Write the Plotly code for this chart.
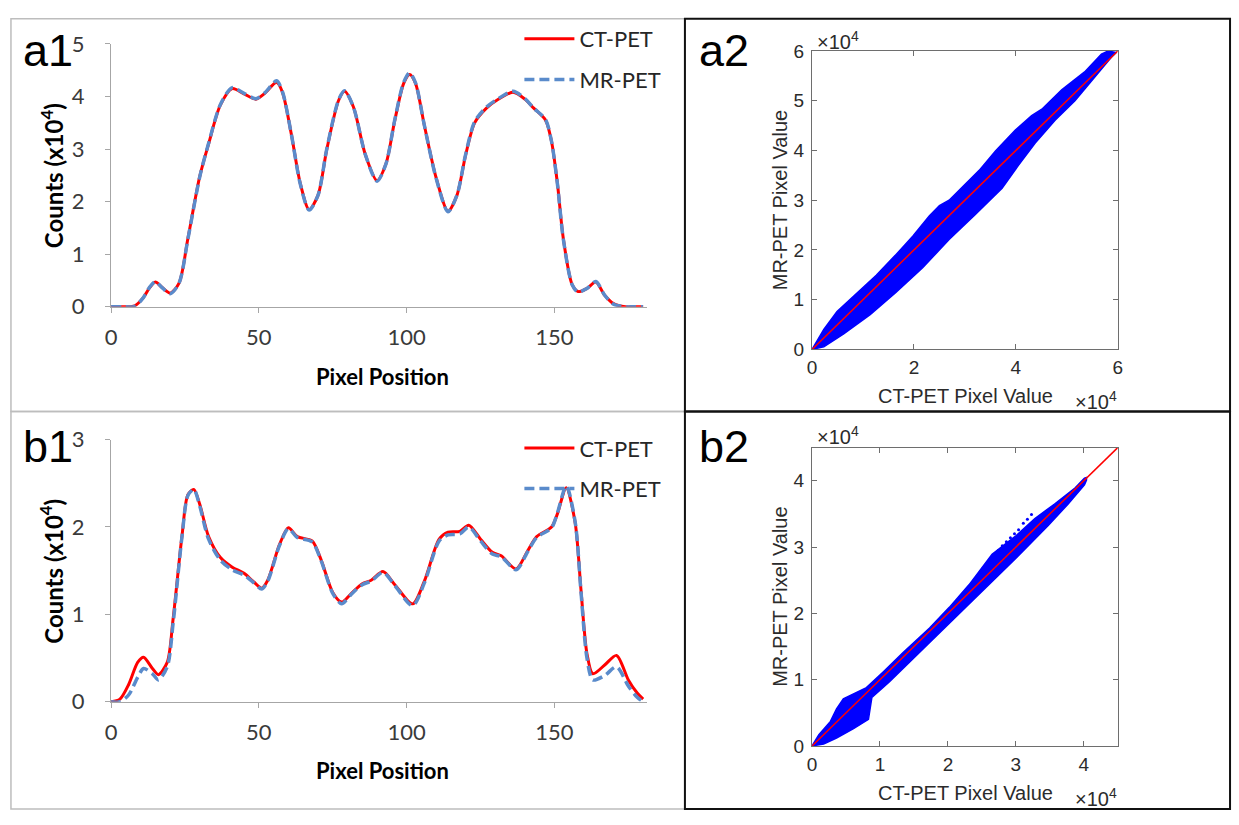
import plotly.graph_objects as go

# ---------------- data ----------------
# a1 profile (Counts x10^4 vs pixel position)
a1_x = [0, 4, 8, 11, 13, 15, 17, 20, 23, 26, 30, 33, 37, 41, 45, 49, 52, 56, 58, 61,
        64, 67, 70, 73, 77, 79, 82, 86, 90, 93, 96, 99, 101, 103, 106, 110, 114, 117, 120, 123,
        127, 131, 136, 140, 143, 147, 149, 151, 153, 156, 158, 161, 164, 167, 170, 174, 177, 180]
a1_ct = [0, 0, 0.02, 0.18, 0.36, 0.47, 0.38, 0.26, 0.45, 1.30, 2.48, 3.10, 3.84, 4.15, 4.05, 3.95, 4.06, 4.27, 4.08, 3.28,
         2.35, 1.85, 2.12, 3.00, 3.93, 4.10, 3.80, 2.90, 2.40, 2.72, 3.55, 4.25, 4.42, 4.25, 3.45, 2.45, 1.82, 2.12, 2.90, 3.50,
         3.78, 3.95, 4.08, 3.95, 3.78, 3.55, 3.15, 2.35, 1.30, 0.42, 0.29, 0.35, 0.47, 0.22, 0.06, 0, 0, 0]
a1_mr = [0, 0, 0.01, 0.18, 0.37, 0.48, 0.38, 0.25, 0.45, 1.29, 2.47, 3.11, 3.85, 4.17, 4.06, 3.96, 4.07, 4.30, 4.09, 3.28,
         2.34, 1.84, 2.12, 3.01, 3.94, 4.11, 3.80, 2.90, 2.39, 2.72, 3.56, 4.27, 4.45, 4.26, 3.45, 2.44, 1.81, 2.12, 2.91, 3.52,
         3.80, 3.96, 4.10, 3.96, 3.78, 3.56, 3.15, 2.34, 1.29, 0.42, 0.28, 0.35, 0.48, 0.22, 0.05, 0, 0, 0]

# b1 profile
b1_x = [0, 3, 6, 9, 11, 14, 16, 19, 21, 24, 26, 28, 30, 33, 37, 41, 45, 48, 51, 53,
        57, 60, 63, 68, 71, 75, 78, 81, 85, 88, 92, 96, 102, 106, 111, 114, 118, 121, 125, 129,
        132, 137, 141, 144, 149, 151, 154, 157, 159, 161, 163, 167, 171, 175, 178, 180]
b1_ct = [0, 0.03, 0.20, 0.45, 0.51, 0.38, 0.31, 0.45, 0.95, 1.90, 2.37, 2.43, 2.26, 1.89, 1.65, 1.54, 1.47, 1.38, 1.30, 1.39,
         1.80, 1.99, 1.89, 1.84, 1.63, 1.25, 1.14, 1.23, 1.35, 1.39, 1.49, 1.34, 1.12, 1.38, 1.86, 1.94, 1.95, 2.02, 1.86, 1.71,
         1.67, 1.52, 1.73, 1.89, 2.00, 2.15, 2.45, 2.05, 1.27, 0.55, 0.32, 0.42, 0.53, 0.25, 0.10, 0.03]
b1_mr = [0, 0.0, 0.08, 0.28, 0.38, 0.32, 0.25, 0.40, 0.90, 1.89, 2.36, 2.43, 2.24, 1.86, 1.62, 1.51, 1.45, 1.37, 1.29, 1.38,
         1.79, 1.98, 1.88, 1.83, 1.62, 1.24, 1.12, 1.22, 1.34, 1.38, 1.48, 1.33, 1.10, 1.36, 1.84, 1.91, 1.92, 2.00, 1.84, 1.69,
         1.66, 1.51, 1.72, 1.88, 1.99, 2.16, 2.47, 2.06, 1.25, 0.50, 0.25, 0.30, 0.40, 0.18, 0.05, 0.0]

# a2 scatter cloud (x10^4): upper and lower edges of the point cloud
a2_upper_x = [0, 0.23, 0.49, 0.88, 1.26, 1.65, 1.98, 2.30, 2.50, 2.69, 2.95, 3.28, 3.60, 3.99, 4.31, 4.51, 4.90, 5.35, 5.68, 5.81]
a2_upper_y = [0, 0.40, 0.76, 1.12, 1.49, 1.91, 2.28, 2.68, 2.89, 3.00, 3.27, 3.60, 3.99, 4.41, 4.70, 4.83, 5.22, 5.58, 5.94, 6.00]
a2_lower_x = [0, 0.23, 0.62, 1.14, 1.65, 2.17, 2.69, 3.21, 3.73, 4.05, 4.38, 4.77, 5.16, 5.55, 5.87, 5.97]
a2_lower_y = [0, 0.05, 0.31, 0.70, 1.15, 1.64, 2.21, 2.72, 3.24, 3.70, 4.15, 4.61, 5.00, 5.48, 5.87, 5.97]
a2_identity = [0, 6]

# b2 scatter cloud
b2_upper_x = [0, 0.10, 0.27, 0.36, 0.46, 0.61, 0.80, 1.05, 1.34, 1.73, 2.02, 2.31, 2.53, 2.65, 2.99, 3.28, 3.57, 3.87, 4.01, 4.04]
b2_upper_y = [0, 0.17, 0.37, 0.56, 0.71, 0.79, 0.88, 1.12, 1.41, 1.78, 2.09, 2.43, 2.72, 2.89, 3.16, 3.43, 3.65, 3.89, 4.04, 4.05]
b2_lower_x = [0, 0.17, 0.36, 0.61, 0.83, 0.88, 1.14, 1.53, 2.02, 2.50, 2.99, 3.48, 3.77, 4.01, 4.04]
b2_lower_y = [0, 0.03, 0.12, 0.26, 0.40, 0.73, 0.97, 1.36, 1.85, 2.33, 2.82, 3.33, 3.65, 3.94, 4.01]
b2_out_x = [2.68, 2.74, 2.80, 2.86, 2.92, 2.98, 3.04, 3.11, 3.17, 3.23]
b2_out_y = [2.89, 2.95, 3.02, 3.08, 3.14, 3.20, 3.26, 3.36, 3.42, 3.49]
b2_identity = [0, 4.5]

profile_ticks = [0, 50, 100, 150]

# ---------------- helpers ----------------
W, H = 1239, 825
def fx(p):
    return p / W
def fy(p):
    return 1 - p / H

RED = "#FF0000"
BLUE_D = "#5A8BCB"
CLOUD = "#0000FF"
XL_FONT = "Lato"
ML_FONT = "Liberation Sans, Arial, sans-serif"

fig = go.Figure()

# profiles
for xs, ct, mr, xa, ya, lg in [(a1_x, a1_ct, a1_mr, "x", "y", "legend2"),
                               (b1_x, b1_ct, b1_mr, "x2", "y2", "legend3")]:
    fig.add_trace(go.Scatter(x=xs, y=ct, mode="lines", name="CT-PET",
                             line=dict(color=RED, width=3, shape="spline", smoothing=0.8),
                             xaxis=xa, yaxis=ya, legend=lg, legendgroup=lg + "ct",
                             hoverinfo="skip"))
    fig.add_trace(go.Scatter(x=xs, y=mr, mode="lines", name="MR-PET",
                             line=dict(color=BLUE_D, width=3.5, dash="10px,5px", shape="spline", smoothing=0.8),
                             xaxis=xa, yaxis=ya, legend=lg, legendgroup=lg + "mr",
                             hoverinfo="skip"))

# scatter clouds
fig.add_trace(go.Scatter(x=a2_upper_x + a2_lower_x[::-1], y=a2_upper_y + a2_lower_y[::-1],
                         mode="lines", fill="toself", fillcolor=CLOUD,
                         line=dict(color=CLOUD, width=1.5), showlegend=False,
                         xaxis="x3", yaxis="y3", hoverinfo="skip"))
fig.add_trace(go.Scatter(x=a2_identity, y=a2_identity, mode="lines",
                         line=dict(color=RED, width=1.5), showlegend=False,
                         xaxis="x3", yaxis="y3", hoverinfo="skip"))

fig.add_trace(go.Scatter(x=b2_upper_x + b2_lower_x[::-1], y=b2_upper_y + b2_lower_y[::-1],
                         mode="lines", fill="toself", fillcolor=CLOUD,
                         line=dict(color=CLOUD, width=1.5), showlegend=False,
                         xaxis="x4", yaxis="y4", hoverinfo="skip"))
fig.add_trace(go.Scatter(x=b2_out_x, y=b2_out_y, mode="markers",
                         marker=dict(color=CLOUD, size=3), showlegend=False,
                         xaxis="x4", yaxis="y4", hoverinfo="skip"))
fig.add_trace(go.Scatter(x=b2_identity, y=b2_identity, mode="lines",
                         line=dict(color=RED, width=1.5), showlegend=False,
                         xaxis="x4", yaxis="y4", hoverinfo="skip"))

# ---------------- axes ----------------
xl_axis = dict(showgrid=False, zeroline=False, showline=True, linecolor="#A6A6A6", linewidth=1.3,
               ticks="outside", ticklen=5, tickcolor="#A6A6A6", tickwidth=1.3,
               tickfont=dict(family=XL_FONT, size=22, color="#3A3A3A"))
ml_axis = dict(showgrid=False, zeroline=False, showline=True, linecolor="#6E6E6E", linewidth=1.2,
               mirror="ticks", ticks="inside", ticklen=5, tickcolor="#6E6E6E", tickwidth=1.2,
               tickfont=dict(family=ML_FONT, size=19, color="#2B2B2B"))

prof_xdom = [fx(106), fx(647)]
cloud_xdom = [fx(813.3), fx(1121.7)]

fig.update_layout(
    xaxis=dict(xl_axis, domain=prof_xdom, range=[0, 181.4], tickvals=profile_ticks, anchor="y",
               ticklabelstandoff=6),
    yaxis=dict(xl_axis, domain=[fy(302.7), fy(31)], range=[0, 5], dtick=1, anchor="x",
               ticklabelstandoff=16),
    xaxis2=dict(xl_axis, domain=prof_xdom, range=[0, 181.4], tickvals=profile_ticks, anchor="y2",
                ticklabelstandoff=6),
    yaxis2=dict(xl_axis, domain=[fy(711), fy(440)], range=[0, 3], dtick=1, anchor="x2",
                ticklabelstandoff=16),
    xaxis3=dict(ml_axis, domain=cloud_xdom, range=[0, 6], dtick=2, anchor="y3",
                ticklabelstandoff=1),
    yaxis3=dict(ml_axis, domain=[fy(346.7), fy(38.3)], range=[0, 6], dtick=1, anchor="x3",
                ticklabelstandoff=3),
    xaxis4=dict(ml_axis, domain=cloud_xdom, range=[0, 4.5], tickvals=[0, 1, 2, 3, 4], anchor="y4",
                ticklabelstandoff=1),
    yaxis4=dict(ml_axis, domain=[fy(756.7), fy(448.3)], range=[0, 4.5], tickvals=[0, 1, 2, 3, 4], anchor="x4",
                ticklabelstandoff=3),
)

leg_common = dict(font=dict(family=XL_FONT, size=22, color="#262626"), bgcolor="rgba(0,0,0,0)",
                  xanchor="left", yanchor="bottom", tracegroupgap=9, itemwidth=50,
                  traceorder="grouped")
fig.update_layout(
    legend2=dict(leg_common, x=fx(518), y=fy(90)),
    legend3=dict(leg_common, x=fx(518), y=fy(513)),
)

# ---------------- panel frames ----------------
shapes = []
for (x0, y0, x1, y1, col, w) in [(5, 5, 685, 411, "#BDBDBD", 1.5), (5, 411, 685, 822, "#BDBDBD", 1.5),
                                 (685, 5, 1235, 411, "#111111", 2), (685, 411, 1235, 822, "#111111", 2)]:
    shapes.append(dict(type="rect", xref="paper", yref="paper", x0=fx(x0), x1=fx(x1), y0=fy(y1), y1=fy(y0),
                       line=dict(color=col, width=w), fillcolor="rgba(0,0,0,0)", layer="above"))

# ---------------- texts ----------------
ann = []
def txt(text, x, y, size, family, color="#000000", angle=0, xanchor="center", yanchor="middle"):
    ann.append(dict(text=text, x=fx(x), y=fy(y), xref="paper", yref="paper", showarrow=False,
                    font=dict(size=size, family=family, color=color), textangle=angle,
                    xanchor=xanchor, yanchor=yanchor))

for lab, x, y in [("a1", 15, 38), ("b1", 15, 447), ("a2", 697, 38), ("b2", 697, 447)]:
    txt(lab, x, y, 45, ML_FONT, xanchor="left")

txt("<b>Counts (x10<sup>4</sup>)</b>", 46, 167, 24, XL_FONT, angle=-90)
txt("<b>Counts (x10<sup>4</sup>)</b>", 46, 576, 24, XL_FONT, angle=-90)
txt("<b>Pixel Position</b>", 380, 375, 22, XL_FONT)
txt("<b>Pixel Position</b>", 380, 782, 22, XL_FONT)

for top, bottom_title, bottom_exp, mid in [(27, 395, 400, 192.5), (436, 805, 810, 602.5)]:
    txt("×10<sup>4</sup>", 816, top, 20, ML_FONT, color="#2B2B2B", xanchor="left")
    txt("CT-PET Pixel Value", 968, bottom_title, 20, ML_FONT, color="#2B2B2B")
    txt("×10<sup>4</sup>", 1077, bottom_exp, 20, ML_FONT, color="#2B2B2B", xanchor="left")
    txt("MR-PET Pixel Value", 781, mid, 20, ML_FONT, color="#2B2B2B", angle=-90)

fig.update_layout(
    width=W, height=H, autosize=False,
    margin=dict(l=0, r=0, t=0, b=0),
    paper_bgcolor="white", plot_bgcolor="white",
    shapes=shapes, annotations=ann,
)

fig.write_html("out.html", config={"displayModeBar": False},
               post_script="document.body.style.margin='0px';")
